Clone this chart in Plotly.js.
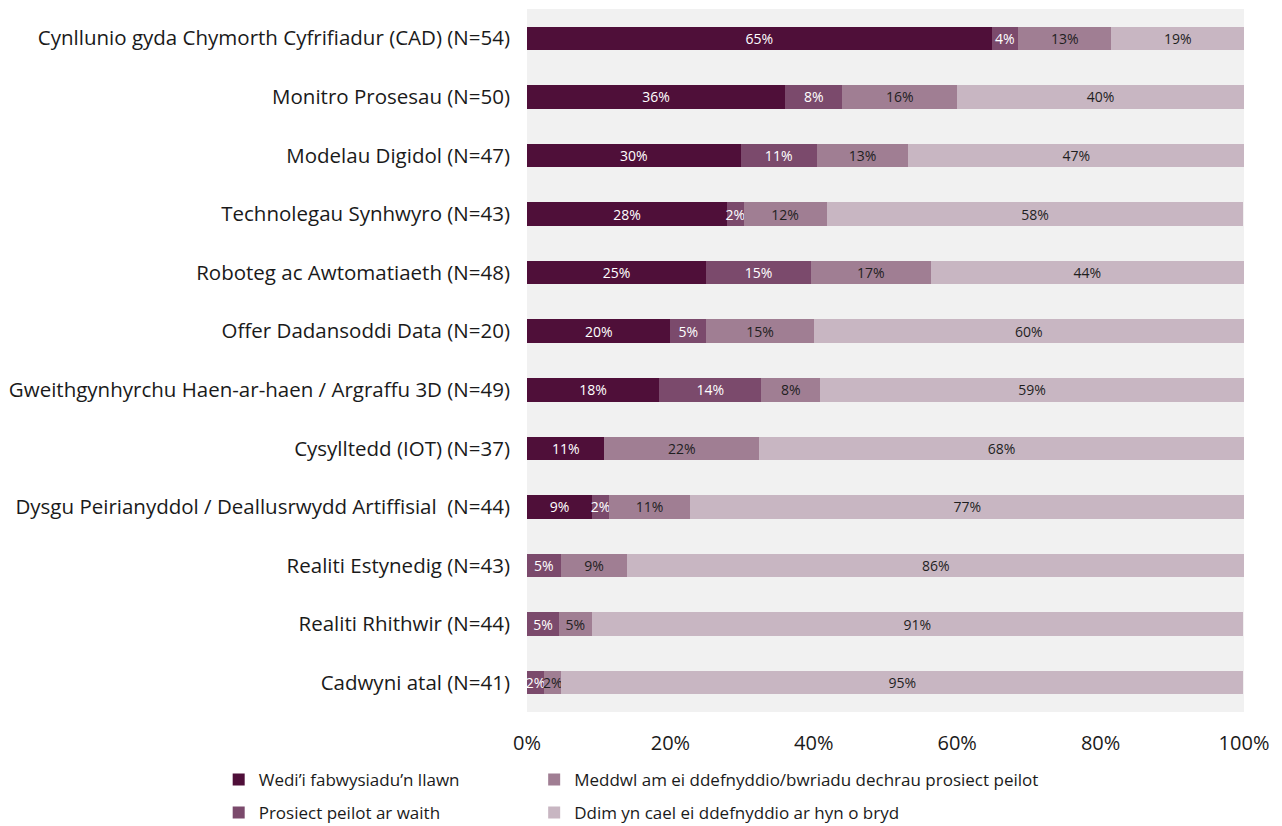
<!DOCTYPE html>
<html>
<head>
<meta charset="utf-8">
<script src="https://cdn.plot.ly/plotly-3.0.1.min.js"></script>
<style>html,body{margin:0;padding:0;background:#fff;}#chart{width:1282px;height:826px;}</style>
</head>
<body>
<div id="chart"></div>
<script>
const categories = [
  "Cynllunio gyda Chymorth Cyfrifiadur (CAD) (N=54)",
  "Monitro Prosesau (N=50)",
  "Modelau Digidol (N=47)",
  "Technolegau Synhwyro (N=43)",
  "Roboteg ac Awtomatiaeth (N=48)",
  "Offer Dadansoddi Data (N=20)",
  "Gweithgynhyrchu Haen-ar-haen / Argraffu 3D (N=49)",
  "Cysylltedd (IOT) (N=37)",
  "Dysgu Peirianyddol / Deallusrwydd Artiffisial  (N=44)",
  "Realiti Estynedig (N=43)",
  "Realiti Rhithwir (N=44)",
  "Cadwyni atal (N=41)"
];
const seriesNames = [
  "Wedi\u2019i fabwysiadu\u2019n llawn",
  "Prosiect peilot ar waith",
  "Meddwl am ei ddefnyddio/bwriadu dechrau prosiect peilot",
  "Ddim yn cael ei ddefnyddio ar hyn o bryd"
];
const fullyAdopted = [64.8, 36, 29.8, 27.9, 25.0, 20, 18.4, 10.8, 9.1, 0, 0, 0];
const pilotUnderway = [3.7, 8, 10.6, 2.3, 14.6, 5, 14.3, 0, 2.3, 4.7, 4.5, 2.4];
const consideringPilot = [13.0, 16, 12.8, 11.6, 16.7, 15, 8.2, 21.6, 11.4, 9.3, 4.5, 2.4];
const notUsed = [18.5, 40, 46.8, 58.1, 43.7, 60, 59.1, 67.6, 77.2, 86.0, 90.9, 95.1];
const xTickVals = [0, 20, 40, 60, 80, 100];
const xTickText = ["0%", "20%", "40%", "60%", "80%", "100%"];

const colors = ["#4f0f39", "#7b4a6c", "#a07e93", "#c8b6c2"];
const textColors = ["#ffffff", "#ffffff", "#1f1f1f", "#1f1f1f"];
const allSeries = [fullyAdopted, pilotUnderway, consideringPilot, notUsed];
const legendIds = ["legend", "legend2", "legend3", "legend4"];
const FONT = "'Open Sans', sans-serif";

const traces = allSeries.map((vals, i) => ({
  type: "bar",
  orientation: "h",
  name: seriesNames[i],
  y: categories,
  x: vals,
  text: vals.map(v => v > 0 ? Math.round(v) + "%" : ""),
  textposition: "inside",
  insidetextanchor: "middle",
  textangle: 0,
  constraintext: "none",
  textfont: {family: FONT, size: 14, color: textColors[i]},
  marker: {color: colors[i], line: {width: 0}},
  hoverinfo: "skip",
  legend: legendIds[i]
}));

function legendBox(x, y) {
  return {
    x: x, y: y, xanchor: "left", yanchor: "middle",
    xref: "paper", yref: "container",
    orientation: "v",
    font: {family: FONT, size: 17, color: "#1a1a1a"},
    itemwidth: 30,
    bgcolor: "rgba(0,0,0,0)"
  };
}

const layout = {
  width: 1282,
  height: 826,
  barmode: "stack",
  bargap: 0.6,
  paper_bgcolor: "#ffffff",
  plot_bgcolor: "#f1f1f1",
  margin: {l: 527, r: 38, t: 9, b: 114},
  font: {family: FONT, size: 20, color: "#1a1a1a"},
  xaxis: {
    range: [0, 100],
    tickvals: xTickVals,
    ticktext: xTickText,
    showgrid: false,
    zeroline: false,
    showline: false,
    ticks: "",
    ticklabelstandoff: 17,
    tickfont: {family: FONT, size: 20, color: "#1a1a1a"},
    fixedrange: true
  },
  yaxis: {
    autorange: "reversed",
    showgrid: false,
    zeroline: false,
    showline: false,
    ticks: "",
    ticklabelstandoff: 16,
    tickfont: {family: FONT, size: 20.5, color: "#1a1a1a"},
    fixedrange: true
  },
  legend: legendBox(-0.43, 1 - 780 / 826),
  legend2: legendBox(-0.43, 1 - 813 / 826),
  legend3: legendBox(0.01, 1 - 780 / 826),
  legend4: legendBox(0.01, 1 - 813 / 826),
  showlegend: true
};

Plotly.newPlot("chart", traces, layout, {displayModeBar: false, staticPlot: true});
</script>
</body>
</html>
